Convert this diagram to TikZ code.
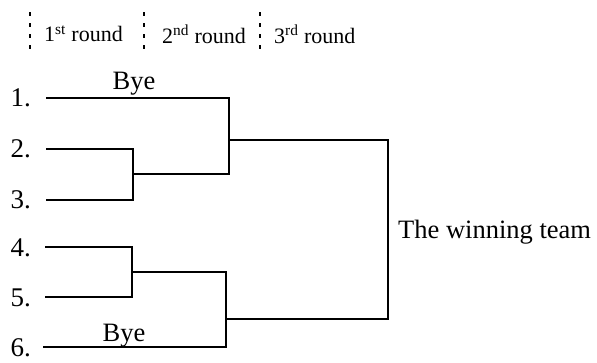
\documentclass[tikz,border=0pt]{standalone}
\usepackage{fontspec}
\setmainfont{Liberation Serif}
\begin{document}
\begin{tikzpicture}[x=1pt,y=-1pt,
  wire/.style={line width=1.8pt,line cap=rect},
  sep/.style={line width=1.4pt,dash pattern=on 4pt off 7pt},
  lbl/.style={font=\fontsize{26.5}{30}\selectfont,inner sep=0pt},
  hdr/.style={font=\fontsize{22}{26}\selectfont,inner sep=0pt,anchor=west},
  num/.style={font=\fontsize{27}{30}\selectfont,inner sep=0pt,anchor=east}]
\useasboundingbox (0,0) rectangle (597,362);
% header
\coordinate (s1a) at (30,12); \coordinate (s1b) at (30,54);
\coordinate (s2a) at (144,12); \coordinate (s2b) at (144,54);
\coordinate (s3a) at (260,12); \coordinate (s3b) at (260,54);
\draw[sep] (s1a) -- (s1b);
\draw[sep] (s2a) -- (s2b);
\draw[sep] (s3a) -- (s3b);
\node[hdr] (r1) at (44,34) {1\textsuperscript{st} round};
\node[hdr] (r2) at (162,34) {2\textsuperscript{nd} round};
\node[hdr] (r3) at (274,34) {3\textsuperscript{rd} round};
% team numbers
\node[num] (n1) at (31,98) {1.};
\node[num] (n2) at (31,149) {2.};
\node[num] (n3) at (31,200) {3.};
\node[num] (n4) at (31,248) {4.};
\node[num] (n5) at (31,298) {5.};
\node[num] (n6) at (31,348) {6.};
% team line starts
\coordinate (t1) at (47,98);
\coordinate (t2) at (47,149);
\coordinate (t3) at (47,200);
\coordinate (t4) at (46,247);
\coordinate (t5) at (46,297);
\coordinate (t6) at (44,347);
% first round junctions
\coordinate (a2) at (133,149);
\coordinate (a3) at (133,200);
\coordinate (a23) at (133,174);
\coordinate (a4) at (132,247);
\coordinate (a5) at (132,297);
\coordinate (a45) at (132,272);
% second round junctions
\coordinate (b1) at (229,98);
\coordinate (b23) at (229,174);
\coordinate (b123) at (229,140);
\coordinate (b45) at (226,272);
\coordinate (b6) at (226,347);
\coordinate (b456) at (226,319);
% final
\coordinate (f1) at (388,140);
\coordinate (f2) at (388,319);
% wires
\draw[wire] (t1) -- (b1) -- (b23) -- (a23);
\draw[wire] (t2) -- (a2) -- (a3) -- (t3);
\draw[wire] (t4) -- (a4) -- (a5) -- (t5);
\draw[wire] (a45) -- (b45) -- (b6) -- (t6);
\draw[wire] (b123) -- (f1) -- (f2) -- (b456);
% labels
\node[lbl,anchor=base] (bye1) at (134,89) {Bye};
\node[lbl,anchor=base] (bye6) at (124,341) {Bye};
\node[lbl,anchor=west] (win) at (398,232) {The winning team};
\end{tikzpicture}
\end{document}
